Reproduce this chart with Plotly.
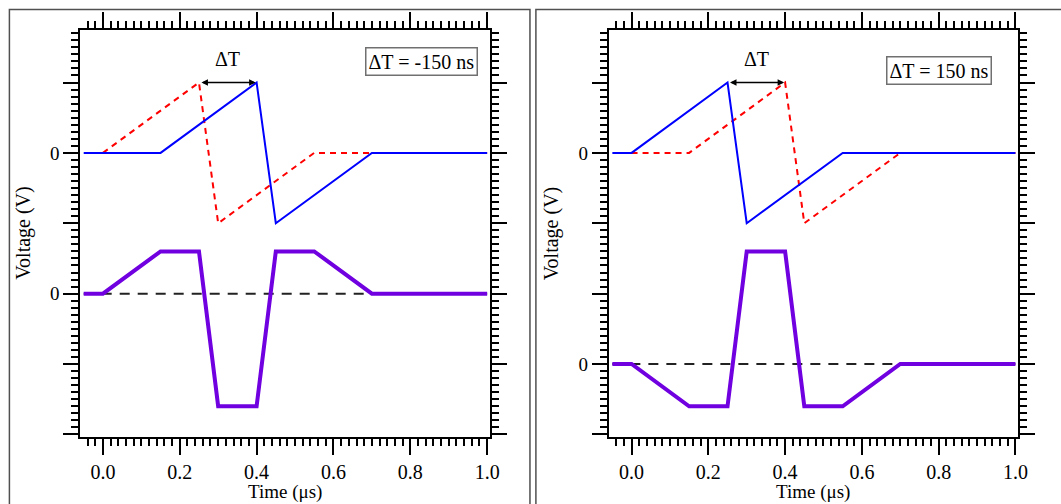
import numpy as np
import plotly.graph_objects as go

# ---------------- data ----------------
# Left panel (dT = -150 ns)
L_blue_t = [-0.05, 0.15, 0.40, 0.45, 0.70, 1.00]
L_blue_v = [0, 0, 1, -1, 0, 0]
L_red_t = [0.00, 0.25, 0.30, 0.55, 1.00]
L_red_v = [0, 1, -1, 0, 0]
L_diff_t = [-0.05, 0.00, 0.15, 0.25, 0.30, 0.40, 0.45, 0.55, 0.70, 1.00]
L_diff_v = [0, 0, 0.6, 0.6, -1.6, -1.6, 0.6, 0.6, 0, 0]

# Right panel (dT = 150 ns)
R_blue_t = [-0.05, 0.00, 0.25, 0.30, 0.55, 1.00]
R_blue_v = [0, 0, 1, -1, 0, 0]
R_red_t = [0.00, 0.15, 0.40, 0.45, 0.70, 1.00]
R_red_v = [0, 0, 1, -1, 0, 0]
R_diff_t = [-0.05, 0.00, 0.15, 0.25, 0.30, 0.40, 0.45, 0.55, 0.70, 1.00]
R_diff_v = [0, 0, -0.6, -0.6, 1.6, 1.6, -0.6, -0.6, 0, 0]

baseline_t = [-0.05, 1.00]

# vertical offsets of the stacked traces
L_top_off, L_bot_off = 2, 0
R_top_off, R_bot_off = 2, -1

L_label = "ΔT = -150 ns"
R_label = "ΔT = 150 ns"

x_major_vals = [0.0, 0.2, 0.4, 0.6, 0.8, 1.0]
x_major_text = ["0.0", "0.2", "0.4", "0.6", "0.8", "1.0"]
x_mid_vals = [0.1, 0.3, 0.5, 0.7, 0.9]
y_major_vals = [-2, -1, 0, 1, 2, 3]
y_mid_vals = [-1.5, -0.5, 0.5, 1.5, 2.5, 3.5]

W, H = 1061, 504
FONT = "Liberation Serif"
BLUE = "#0000FF"
RED = "#FF0000"
PURPLE = "#7000E0"

XR = [-0.059, 1.007]
YR = [-2.03, 3.746]

def px_x(p):
    return p / W

def px_y(p):
    return 1 - p / H

L_dom = [px_x(81), px_x(494.5)]
R_dom = [px_x(614.7), px_x(1027.8)]
Y_dom = [px_y(436.5), px_y(30)]

fig = go.Figure()

def add_panel(xa, ya, bt, bv, rt, rv, dt, dv, top_off, bot_off):
    fig.add_trace(go.Scatter(x=baseline_t, y=np.array([0, 0]) + bot_off, mode="lines",
                             line=dict(color="#222222", width=2, dash="10px,8px"),
                             xaxis=xa, yaxis=ya, showlegend=False, hoverinfo="skip"))
    fig.add_trace(go.Scatter(x=rt, y=np.array(rv) + top_off, mode="lines",
                             line=dict(color=RED, width=2, dash="6px,5px"),
                             xaxis=xa, yaxis=ya, showlegend=False))
    fig.add_trace(go.Scatter(x=bt, y=np.array(bv) + top_off, mode="lines",
                             line=dict(color=BLUE, width=2),
                             xaxis=xa, yaxis=ya, showlegend=False))
    fig.add_trace(go.Scatter(x=dt, y=np.array(dv) + bot_off, mode="lines",
                             line=dict(color=PURPLE, width=4),
                             xaxis=xa, yaxis=ya, showlegend=False))

add_panel("x", "y", L_blue_t, L_blue_v, L_red_t, L_red_v, L_diff_t, L_diff_v, L_top_off, L_bot_off)
add_panel("x2", "y2", R_blue_t, R_blue_v, R_red_t, R_red_v, R_diff_t, R_diff_v, R_top_off, R_bot_off)

xtickfont = dict(family=FONT, size=20, color="black")
ytickfont = dict(family=FONT, size=19, color="black")

def xaxis_main(dom, anchor):
    return dict(domain=dom, anchor=anchor, range=XR, showgrid=False, zeroline=False,
                showline=True, linecolor="black", linewidth=2, mirror="allticks",
                ticks="outside", ticklen=16, tickwidth=2, tickcolor="black",
                tickvals=x_major_vals, ticktext=x_major_text, tickfont=xtickfont,
                ticklabelstandoff=0,
                minor=dict(dtick=0.02, tick0=0, ticklen=7, tickwidth=2, tickcolor="black",
                           ticks="outside", showgrid=False))

def xaxis_mid(over, anchor):
    return dict(overlaying=over, anchor=anchor, range=XR, showgrid=False, zeroline=False,
                showline=False, mirror="allticks", ticks="outside", ticklen=12, tickwidth=2,
                tickcolor="black", tickvals=x_mid_vals, showticklabels=False)

def yaxis_main(anchor, ticktext):
    return dict(domain=Y_dom, anchor=anchor, range=YR, showgrid=False, zeroline=False,
                showline=True, linecolor="black", linewidth=2, mirror="allticks",
                ticks="outside", ticklen=15, tickwidth=2, tickcolor="black",
                tickvals=y_major_vals, ticktext=ticktext, tickfont=ytickfont,
                ticklabelstandoff=0,
                minor=dict(dtick=0.1, tick0=0, ticklen=7, tickwidth=2, tickcolor="black",
                           ticks="outside", showgrid=False))

def yaxis_mid(over, anchor):
    return dict(overlaying=over, anchor=anchor, range=YR, showgrid=False, zeroline=False,
                showline=False, mirror="allticks", ticks="outside", ticklen=11, tickwidth=2,
                tickcolor="black", tickvals=y_mid_vals, showticklabels=False)

L_ytext = ["0" if v in (L_top_off, L_bot_off) else "" for v in y_major_vals]
R_ytext = ["0" if v in (R_top_off, R_bot_off) else "" for v in y_major_vals]

fig.update_layout(
    width=W, height=H, autosize=False,
    margin=dict(l=0, r=0, t=0, b=0),
    paper_bgcolor="white", plot_bgcolor="white",
    font=dict(family=FONT, size=20, color="black"),
    xaxis=xaxis_main(L_dom, "y"),
    yaxis=yaxis_main("x", L_ytext),
    xaxis2=xaxis_main(R_dom, "y2"),
    yaxis2=yaxis_main("x2", R_ytext),
    xaxis3=xaxis_mid("x", "y"),
    yaxis3=yaxis_mid("y", "x"),
    xaxis4=xaxis_mid("x2", "y2"),
    yaxis4=yaxis_mid("y2", "x2"),
)

annotations = []
# axis titles
for cx, vx in ((287.5, 23), (821, 556.5)):
    annotations.append(dict(text="Time (μs)", xref="paper", yref="paper", x=px_x(cx), y=0,
                            xanchor="center", yanchor="bottom", showarrow=False, borderpad=0,
                            font=dict(family=FONT, size=19)))
    annotations.append(dict(text="Voltage (V)", xref="paper", yref="paper", x=px_x(vx), y=px_y(233),
                            xanchor="center", yanchor="middle", showarrow=False, textangle=-90,
                            font=dict(family=FONT, size=20)))

# delta-T arrows and labels
for xa, ya, x0, x1 in (("x", "y", 0.25, 0.40), ("x2", "y2", 0.25, 0.40)):
    annotations.append(dict(x=x1, y=3, ax=x0, ay=3, xref=xa, yref=ya, axref=xa, ayref=ya,
                            text="", showarrow=True, arrowhead=2, arrowside="end+start",
                            arrowsize=1, arrowwidth=1.3, arrowcolor="black",
                            standoff=1, startstandoff=1))
    annotations.append(dict(x=(x0 + x1) / 2, y=3, xref=xa, yref=ya, text="ΔT",
                            showarrow=False, yanchor="middle", yshift=24,
                            font=dict(family=FONT, size=20)))

# boxed labels
annotations.append(dict(text=L_label, xref="paper", yref="paper", x=px_x(426), y=px_y(61.5),
                        xanchor="center", yanchor="middle", showarrow=False,
                        bordercolor="#707070", borderwidth=1.5, borderpad=2, bgcolor="white",
                        font=dict(family=FONT, size=20)))
annotations.append(dict(text=R_label, xref="paper", yref="paper", x=px_x(948.4), y=px_y(70.5),
                        xanchor="center", yanchor="middle", showarrow=False,
                        bordercolor="#707070", borderwidth=1.5, borderpad=2, bgcolor="white",
                        font=dict(family=FONT, size=20)))
fig.update_layout(annotations=annotations)

# panel frames
shapes = [
    dict(type="rect", xref="paper", yref="paper", x0=px_x(9.5), x1=px_x(535), y0=-0.1, y1=px_y(9.5),
         line=dict(color="#505050", width=1.5), layer="below"),
    dict(type="rect", xref="paper", yref="paper", x0=px_x(541), x1=1.1, y0=-0.1, y1=px_y(9.5),
         line=dict(color="#505050", width=1.5), layer="below"),
]
fig.update_layout(shapes=shapes)

fig.write_html("out.html")
